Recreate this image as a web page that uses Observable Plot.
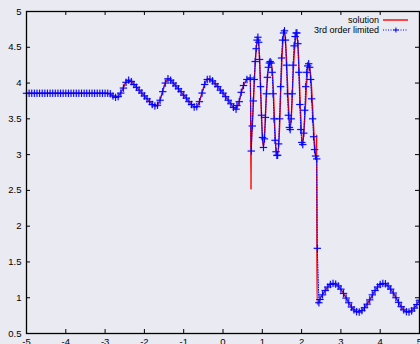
<!DOCTYPE html>
<html>
<head>
<meta charset="utf-8">
<script src="https://cdn.jsdelivr.net/npm/d3@7"></script>
<script src="https://cdn.jsdelivr.net/npm/@observablehq/plot@0.6"></script>
<style>
  html, body { margin: 0; padding: 0; background: #eaeaf2; }
  #chart { position: relative; width: 420px; height: 344px; overflow: hidden;
           font-family: "Liberation Sans", Arial, sans-serif; }
  #key { position: absolute; left: 300px; top: 12px; }
</style>
</head>
<body>
<div id="chart"></div>
<script>
// Density profile, reference ("solution") and 3rd order limited scheme.
const solX = [-5, -2.95, -2.88, -2.80, -2.74, -2.68, -2.62, -2.56, -2.50, -2.44, -2.40, -2.34, -2.20, -2.00, -1.86, -1.76, -1.71, -1.66, -1.60, -1.54, -1.48, -1.42, -1.38, -1.33, -1.20, -1.00, -0.86, -0.76, -0.70, -0.66, -0.60, -0.54, -0.47, -0.41, -0.36, -0.30, -0.20, 0.00, 0.20, 0.28, 0.32, 0.36, 0.41, 0.46, 0.52, 0.58, 0.62, 0.66, 0.70, 0.712, 0.716,
  0.76, 0.80, 0.84, 0.888, 0.93, 0.97, 1.00, 1.03, 1.06, 1.10, 1.15, 1.22, 1.27, 1.31, 1.35, 1.39, 1.43, 1.47, 1.51, 1.565, 1.61, 1.66, 1.71, 1.75, 1.80, 1.85, 1.88, 1.92, 1.97, 2.03, 2.08, 2.13, 2.19, 2.24, 2.29, 2.34, 2.37, 2.385, 2.392,
  2.50, 2.60, 2.70, 2.81, 2.93, 3.10, 3.20, 3.30, 3.445, 3.60, 3.75, 3.90, 4.08, 4.20, 4.35, 4.50, 4.60, 4.715, 4.85, 5.0];
const solRho = [3.857, 3.857, 3.85, 3.815, 3.80, 3.81, 3.85, 3.91, 3.99, 4.035, 4.04, 4.02, 3.94, 3.82, 3.74, 3.69, 3.68, 3.70, 3.77, 3.88, 3.99, 4.055, 4.06, 4.04, 3.96, 3.83, 3.74, 3.68, 3.66, 3.67, 3.74, 3.85, 3.98, 4.05, 4.06, 4.04, 3.99, 3.86, 3.71, 3.65, 3.635, 3.66, 3.74, 3.86, 3.96, 4.03, 4.06, 4.07, 4.07, 2.52, 3.05,
  3.55, 4.05, 4.45, 4.62, 4.35, 3.70, 3.25, 3.11, 3.30, 3.80, 4.18, 4.29, 4.05, 3.50, 3.08, 3.01, 3.25, 3.90, 4.45, 4.71, 4.40, 3.75, 3.37, 3.65, 4.30, 4.62, 4.69, 4.40, 3.65, 3.16, 3.50, 4.00, 4.26, 4.05, 3.55, 3.05, 2.95, 3.28, 0.91,
  1.02, 1.10, 1.17, 1.20, 1.165, 1.03, 0.93, 0.85, 0.80, 0.86, 0.985, 1.125, 1.20, 1.165, 1.05, 0.905, 0.83, 0.80, 0.845, 0.965];

const numX = [-5, -4.933, -4.867, -4.8, -4.733, -4.667, -4.6, -4.533, -4.467, -4.4, -4.333, -4.267, -4.2, -4.133, -4.067, -4, -3.933, -3.867, -3.8, -3.733, -3.667, -3.6, -3.533, -3.467, -3.4, -3.333, -3.267, -3.2, -3.133, -3.067, -3.0, -2.933,
  -2.867, -2.80, -2.733, -2.667, -2.60, -2.533, -2.467, -2.40, -2.333, -2.267, -2.20, -2.133, -2.067, -2.00, -1.933, -1.867, -1.80, -1.733, -1.667, -1.60, -1.533, -1.467, -1.40, -1.333, -1.267, -1.20, -1.133, -1.067, -1.00, -0.933, -0.867, -0.80, -0.733, -0.667, -0.60, -0.533, -0.467, -0.40, -0.333, -0.267, -0.20, -0.133, -0.067, 0.0, 0.067, 0.133, 0.20, 0.267, 0.333, 0.355, 0.413, 0.464, 0.522, 0.609, 0.693,
  0.72, 0.745, 0.77, 0.795, 0.82, 0.845, 0.868, 0.888, 0.908, 0.93, 0.955, 0.98, 1.005, 1.03, 1.055, 1.08, 1.105, 1.13, 1.155, 1.18, 1.20, 1.225, 1.25, 1.275, 1.30, 1.325, 1.35, 1.37, 1.39, 1.415, 1.44, 1.465, 1.49, 1.515, 1.54, 1.565, 1.59, 1.615, 1.64, 1.665, 1.69, 1.71, 1.735, 1.76, 1.785, 1.81, 1.835, 1.86, 1.88, 1.905, 1.93, 1.955, 1.98, 2.005, 2.03, 2.055, 2.08, 2.105, 2.13, 2.155, 2.18, 2.205, 2.23, 2.255, 2.28, 2.305, 2.33, 2.355, 2.385, 2.40, 2.44,
  2.467, 2.533, 2.60, 2.667, 2.733, 2.80, 2.867, 2.933, 3.0, 3.067, 3.133, 3.2, 3.267, 3.333, 3.4, 3.467, 3.533, 3.6, 3.667, 3.733, 3.8, 3.867, 3.933, 4.0, 4.067, 4.133, 4.2, 4.267, 4.333, 4.4, 4.467, 4.533, 4.6, 4.667, 4.733, 4.8, 4.867, 4.933, 5.0];
const numRho = [3.857, 3.857, 3.857, 3.857, 3.857, 3.857, 3.857, 3.857, 3.857, 3.857, 3.857, 3.857, 3.857, 3.857, 3.857, 3.857, 3.857, 3.857, 3.857, 3.857, 3.857, 3.857, 3.857, 3.857, 3.857, 3.857, 3.857, 3.857, 3.857, 3.857, 3.857, 3.857,
  3.85, 3.82, 3.80, 3.81, 3.86, 3.93, 4.01, 4.04, 4.02, 3.98, 3.94, 3.90, 3.86, 3.82, 3.78, 3.74, 3.70, 3.68, 3.69, 3.76, 3.88, 4.00, 4.06, 4.04, 4.00, 3.96, 3.92, 3.88, 3.83, 3.79, 3.74, 3.70, 3.665, 3.67, 3.74, 3.86, 3.98, 4.05, 4.055, 4.03, 3.99, 3.95, 3.90, 3.86, 3.81, 3.76, 3.71, 3.66, 3.635, 3.685, 3.74, 3.87, 3.965, 4.05, 4.07,
  3.05, 3.40, 3.75, 4.05, 4.30, 4.48, 4.60, 4.64, 4.57, 4.33, 3.95, 3.55, 3.24, 3.10, 3.22, 3.52, 3.85, 4.08, 4.22, 4.28, 4.30, 4.28, 4.15, 3.85, 3.50, 3.20, 3.04, 2.99, 2.99, 3.15, 3.50, 3.95, 4.35, 4.60, 4.70, 4.73, 4.60, 4.25, 3.85, 3.55, 3.38, 3.35, 3.50, 3.85, 4.25, 4.52, 4.65, 4.70, 4.70, 4.55, 4.15, 3.70, 3.35, 3.17, 3.14, 3.30, 3.62, 3.95, 4.15, 4.24, 4.27, 4.22, 4.05, 3.78, 3.50, 3.25, 3.07, 2.98, 2.94, 1.69, 0.93,
  0.975, 1.04, 1.10, 1.15, 1.185, 1.20, 1.19, 1.165, 1.12, 1.06, 0.995, 0.93, 0.87, 0.83, 0.805, 0.80, 0.82, 0.86, 0.91, 0.97, 1.04, 1.10, 1.15, 1.185, 1.20, 1.195, 1.165, 1.12, 1.065, 1.0, 0.935, 0.875, 0.83, 0.805, 0.80, 0.815, 0.855, 0.905, 0.965];

const xTicks = [-5, -4, -3, -2, -1, 0, 1, 2, 3, 4, 5];
const yTicks = [0.5, 1, 1.5, 2, 2.5, 3, 3.5, 4, 4.5, 5];
const seriesNames = ["solution", "3rd order limited"];

const solution = solX.map((x, i) => ({x, rho: solRho[i]}));
const numerical = numX.map((x, i) => ({x, rho: numRho[i]}));

const W = 420, H = 344;
const mTop = 11, mBottom = 11, mLeft = 26, mRight = 1;
const innerH = H - mTop - mBottom, innerW = W - mLeft - mRight;
const tick = 4;

const plot = Plot.plot({
  width: W, height: H,
  marginTop: mTop, marginBottom: mBottom, marginLeft: mLeft, marginRight: mRight,
  style: {background: "#eaeaf2", fontFamily: "Liberation Sans, Arial, sans-serif", fontSize: "9.5px", color: "#000", overflow: "visible"},
  x: {domain: [-5, 5]},
  y: {domain: [0.5, 5]},
  marks: [
    Plot.axisX(xTicks, {anchor: "bottom", tickSize: 0, tickPadding: 5, label: null, tickFormat: d => `${d}`}),
    Plot.axisY(yTicks, {anchor: "left", tickSize: 0, tickPadding: 5, label: null, tickFormat: d => `${d}`}),
    // inward tick marks on all four sides
    Plot.tickX(xTicks, {x: d => d, stroke: "#000", strokeWidth: 1, insetTop: innerH - tick}),
    Plot.tickX(xTicks, {x: d => d, stroke: "#000", strokeWidth: 1, insetBottom: innerH - tick}),
    Plot.tickY(yTicks, {y: d => d, stroke: "#000", strokeWidth: 1, insetRight: innerW - tick}),
    Plot.tickY(yTicks, {y: d => d, stroke: "#000", strokeWidth: 1, insetLeft: innerW - tick}),
    Plot.line(solution, {x: "x", y: "rho", stroke: "#ff0000", strokeWidth: 1.4, curve: "monotone-x"}),
    Plot.line(numerical, {x: "x", y: "rho", stroke: "#0000ff", strokeWidth: 1, strokeDasharray: "1,1.5"}),
    Plot.dot(numerical, {x: "x", y: "rho", symbol: "plus", r: 2.5, stroke: "#8080ff", strokeWidth: 2, strokeOpacity: 0.35}),
    Plot.dot(numerical, {x: "x", y: "rho", symbol: "plus", r: 2.5, stroke: "#0000ff", strokeWidth: 1}),
    Plot.frame({stroke: "#000", strokeWidth: 1.3})
  ]
});
document.getElementById("chart").appendChild(plot);

// Key in the upper right corner
const key = d3.select("#chart").append("svg")
  .attr("id", "key").attr("width", 118).attr("height", 26)
  .style("font-family", "Liberation Sans, Arial, sans-serif").style("font-size", "9px");
const rows = key.selectAll("g").data(seriesNames).join("g")
  .attr("transform", (d, i) => `translate(0,${8 + i * 10})`);
rows.append("text").attr("x", 79).attr("dy", "0.35em").attr("text-anchor", "end").attr("fill", "#000").text(d => d);
rows.append("line").attr("x1", 83).attr("x2", 108)
  .attr("stroke", (d, i) => i === 0 ? "#ff0000" : "#0000ff")
  .attr("stroke-width", (d, i) => i === 0 ? 1.4 : 1)
  .attr("stroke-dasharray", (d, i) => i === 0 ? null : "1,1.5");
rows.filter((d, i) => i === 1).append("path")
  .attr("d", "M93.4,0h5M95.9,-2.5v5").attr("stroke", "#0000ff").attr("stroke-width", 1);
</script>
</body>
</html>
